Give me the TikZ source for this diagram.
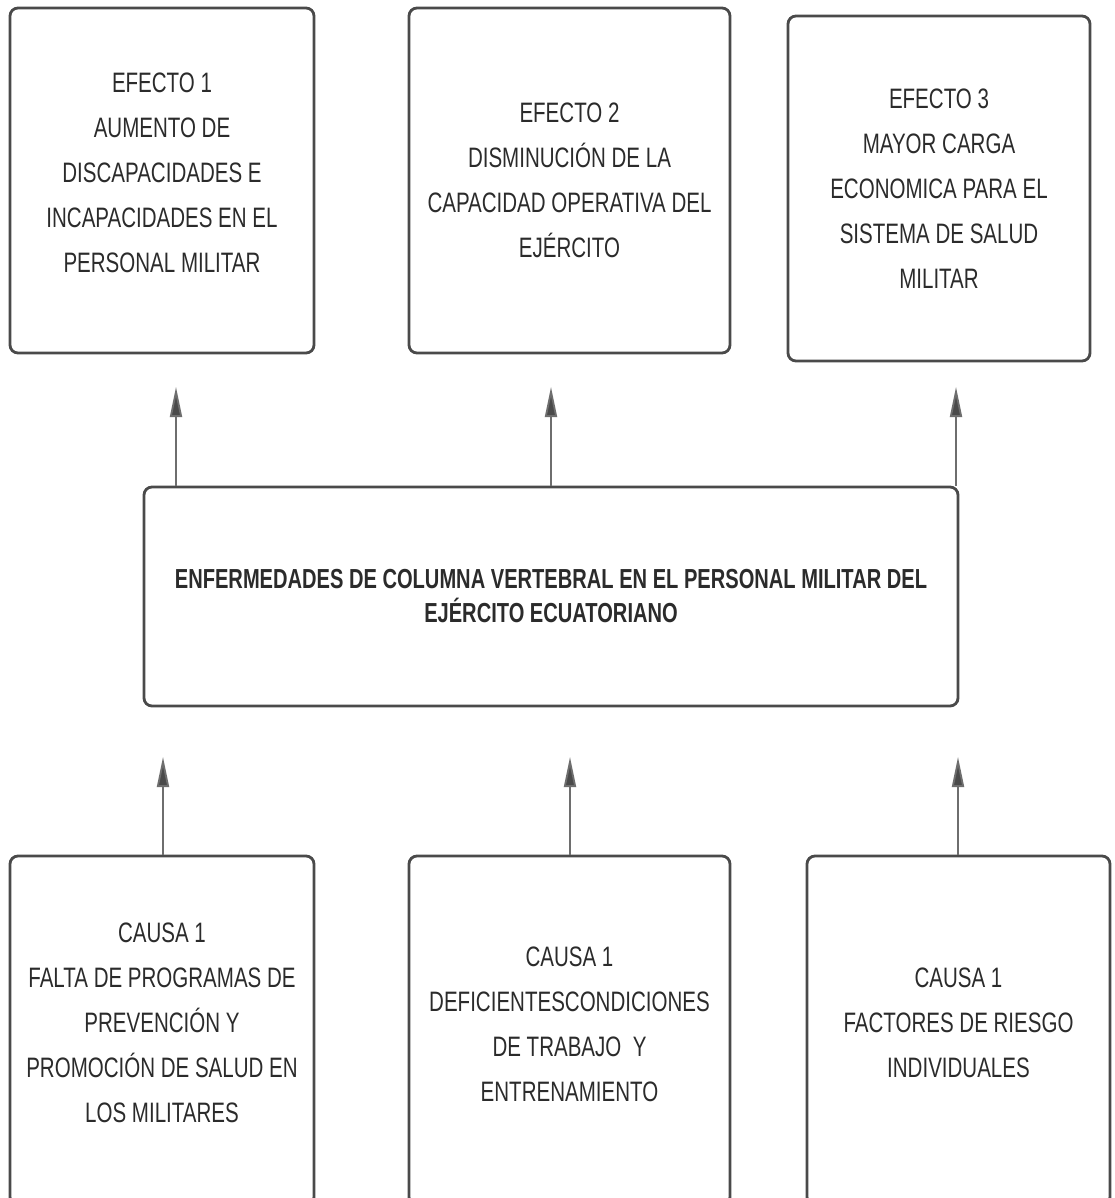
\documentclass[tikz,border=0pt]{standalone}
\usepackage{fontspec}
\setmainfont[FakeStretch=0.73]{Liberation Sans}
\usetikzlibrary{arrows.meta}
\definecolor{boxgray}{HTML}{4A4A4A}
\definecolor{arrgray}{HTML}{6E6E6E}
\definecolor{txtgray}{HTML}{2B2B2B}
\tikzset{
  probbox/.style={draw=boxgray, line width=2.4pt, rounded corners=0.24cm,
    align=center, text=txtgray, inner sep=0pt},
  smalltxt/.style={font=\fontsize{24}{38.4}\selectfont},
  upline/.style={draw=arrgray, line width=1.6pt,
    -{Triangle[length=0.9cm,width=0.36cm,fill=boxgray]}},
}

\begin{document}
\begin{tikzpicture}[x=0.03cm,y=-0.03cm]
    \clip (0,0) rectangle (1114,1198);
    % efectos
    \node[probbox,smalltxt,minimum width=9.12cm,minimum height=10.35cm,text depth=0.48cm] (ef1) at (162,180.5)
      {EFECTO 1\\AUMENTO DE\\DISCAPACIDADES E\\INCAPACIDADES EN EL\\PERSONAL MILITAR};
    \node[probbox,smalltxt,minimum width=9.63cm,minimum height=10.35cm] (ef2) at (569.5,180.5)
      {EFECTO 2\\DISMINUCIÓN DE LA\\CAPACIDAD OPERATIVA DEL\\EJÉRCITO};
    \node[probbox,smalltxt,minimum width=9.06cm,minimum height=10.35cm] (ef3) at (939,188.5)
      {EFECTO 3\\MAYOR CARGA\\ECONOMICA PARA EL\\SISTEMA DE SALUD\\MILITAR};
    % problema central
    \node[probbox,minimum width=24.42cm,minimum height=6.57cm,
      font=\fontsize{23.5}{29}\selectfont\bfseries] (prob) at (551,596.5)
      {ENFERMEDADES DE COLUMNA VERTEBRAL EN EL PERSONAL MILITAR DEL\\EJÉRCITO ECUATORIANO};
    % causas
    \node[probbox,smalltxt,minimum width=9.12cm,minimum height=10.47cm,text depth=0.48cm] (ca1) at (162,1030.5)
      {CAUSA 1\\FALTA DE PROGRAMAS DE\\PREVENCIÓN Y\\PROMOCIÓN DE SALUD EN\\LOS MILITARES};
    \node[probbox,smalltxt,minimum width=9.63cm,minimum height=10.47cm,text depth=0.4cm] (ca2) at (569.5,1030.5)
      {CAUSA 1\\DEFICIENTESCONDICIONES\\DE TRABAJO\ \ Y\\ENTRENAMIENTO};
    \node[probbox,smalltxt,minimum width=9.09cm,minimum height=10.47cm,text depth=0.48cm] (ca3) at (958.5,1030.5)
      {CAUSA 1\\FACTORES DE RIESGO\\INDIVIDUALES};
    % puntas de flecha
    \coordinate (t1) at (176,387);
    \coordinate (t2) at (551,387);
    \coordinate (t3) at (956,387);
    \coordinate (b1) at (163,757);
    \coordinate (b2) at (570,757);
    \coordinate (b3) at (958,757);
    \draw[upline] (prob.north -| t1) -- (t1);
    \draw[upline] (prob.north -| t2) -- (t2);
    \draw[upline] (prob.north -| t3) -- (t3);
    \draw[upline] (ca1.north -| b1) -- (b1);
    \draw[upline] (ca2.north -| b2) -- (b2);
    \draw[upline] (ca3.north -| b3) -- (b3);
\end{tikzpicture}
\end{document}
